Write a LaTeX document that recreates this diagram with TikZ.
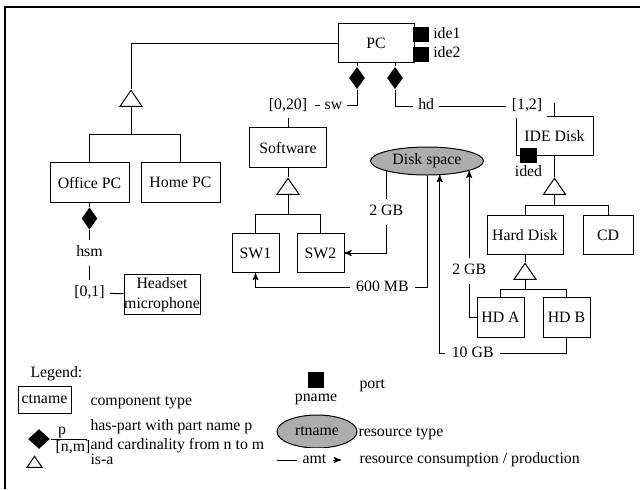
\documentclass[tikz,border=0pt]{standalone}
\usepackage{fontspec}
\setmainfont{Liberation Serif}
\usetikzlibrary{arrows,shapes.geometric,positioning}

\tikzset{
  comp/.style={draw, minimum height=23.6pt, inner sep=1pt},
  port/.style={fill=black, minimum width=9.6pt, minimum height=9pt, inner sep=0pt},
  haspart/.style={diamond, fill=black, minimum width=9.6pt, minimum height=13.5pt, inner sep=0pt},
  isa/.style={draw, isosceles triangle, isosceles triangle stretches, shape border rotate=90,
              minimum width=13.2pt, minimum height=9.6pt, inner sep=0pt},
  restype/.style={draw, ellipse, fill=black!32, minimum width=67.8pt, minimum height=16.8pt, inner sep=0pt},
  part/.style={fill=white, inner xsep=3pt, inner ysep=3pt, text height=6.6pt, text depth=2pt},
  amount/.style={fill=white, inner xsep=4pt, inner ysep=3.5pt, text height=6.6pt, text depth=2pt},
  txt/.style={inner sep=0pt, text height=6.2pt, text depth=1.6pt}
}

\begin{document}
\begin{tikzpicture}[x=0.6pt,y=-0.6pt,line width=0.6pt,>=stealth',
                    font=\fontsize{9.5}{12}\selectfont]
  \useasboundingbox (0,0) rectangle (640,489);
  \draw[line width=1.6pt] (5,489) -- (5,7) -- (640,7);

  % component types
  \node[comp, minimum width=45.6pt] (pc) at (376,43) {PC};
  \node[comp, minimum width=47.4pt] (office) at (89.5,182.5) {Office PC};
  \node[comp, minimum width=47.4pt] (home) at (180.5,182.5) {Home PC};
  \node[comp, minimum width=45.6pt, align=center, inner xsep=0pt] (headset) at (162,294.5) {Headset\\microphone};
  \node[comp, minimum width=46.2pt] (software) at (288,147.5) {Software};
  \node[comp, minimum width=28.2pt] (sw1) at (255.5,253) {SW1};
  \node[comp, minimum width=28.2pt] (sw2) at (320.5,253) {SW2};
  \node[comp, minimum width=46.2pt] (ide) at (554.5,136) {IDE Disk};
  \node[comp, minimum width=45.6pt] (hard) at (525,235) {Hard Disk};
  \node[comp, minimum width=30pt] (cd) at (608,235) {CD};
  \node[comp, minimum width=28.2pt] (hda) at (500.5,317.5) {HD A};
  \node[comp, minimum width=28.2pt] (hdb) at (566.5,317.5) {HD B};
  \node[restype] (space) at (427,161) {Disk space};

  % ports
  \node[port] (ide1) at (421,34.5) {};
  \node[port] (ide2) at (421,54) {};
  \node[txt, right=2pt of ide1] (ide1l) {ide1};
  \node[txt, right=2pt of ide2] (ide2l) {ide2};
  \node[port, minimum width=10.2pt] (ided) at (528.5,155.5) {};
  \node[txt, below=1.5pt of ided] (idedl) {ided};

  % has-part
  \node[haspart] (dsw) at (357,78) {};
  \node[haspart] (dhd) at (395,78) {};
  \node[haspart] (dhsm) at (89.5,218.5) {};
  \draw (dsw) -- (dsw |- pc.south);
  \draw (dhd) -- (dhd |- pc.south);
  \draw (dhsm) -- (office);

  \draw (dsw.south) -- ++(0,16) -| (software.north)
    node[part, pos=0.17] (swname) {sw}
    node[part, inner xsep=5pt, pos=0.5] (swcard) {[0,20]};

  \node[part] (hdcard) at (527,106) {[1,2]};
  \draw (dhd.south) |- (hdcard.west) node[part, pos=0.64] (hdname) {hd};
  \coordinate (hdtop) at (554.5,103);
  \draw (hdtop) -- (ide);

  \node[part] (hsm) at (89.5,253) {hsm};
  \node[part] (hsmcard) at (89.5,293) {[0,1]};
  \draw (dhsm) -- (hsm);
  \draw (hsm) -- (hsmcard);
  \draw (hsmcard) -- (headset);

  % is-a
  \node[isa, anchor=apex] (isapc) at (131,89) {};
  \draw (pc) -| (isapc.apex);
  \draw (isapc.south) -- ++(0,28) coordinate (isapcbar);
  \draw (office) |- (isapcbar) -| (home);

  \node[isa, anchor=apex] (isasw) at (288,177) {};
  \draw (software) -- (isasw.apex);
  \draw (isasw.south) -- ++(0,20) coordinate (isaswbar);
  \draw (sw1) |- (isaswbar) -| (sw2);

  \node[isa, anchor=apex] (isaide) at (554.5,177) {};
  \draw (ide) -- (isaide.apex);
  \draw (isaide.south) -- ++(0,11) coordinate (isaidebar);
  \draw (hard) |- (isaidebar) -| (cd);

  \node[isa, anchor=apex] (isahd) at (525,262) {};
  \draw (hard) -- (isahd.apex);
  \draw (isahd.south) -- ++(0,10) coordinate (isahdbar);
  \draw (hda) |- (isahdbar) -| (hdb);

  % resources
  \draw[->] (space.194.6) |- (sw2) node[amount, pos=0.25] (gbsw) {2 GB};
  \draw[->] (space.south) |- ([yshift=-8.4pt]sw1.south)
    node[amount, pos=0.63] (mbsw) {600 MB} -- (sw1);
  \draw[->] (hdb) -- ([yshift=-9.6pt]hdb.south) -| (space.-48.7)
    node[amount, pos=0.37] (gbhdb) {10 GB};
  \draw[->] (hda) -| (space.-13.9) node[amount, pos=0.66] (gbhda) {2 GB};

  % legend
  \node[txt, anchor=west] (legend) at (30,374) {Legend:};
  \node[comp, minimum width=31.8pt, minimum height=16.2pt] (lcomp) at (44.5,399.5) {ctname};
  \node[txt, anchor=west] (lcompt) at (90,402) {component type};
  \node[haspart, minimum width=13.2pt, minimum height=12pt] (lpart) at (39,439) {};
  \coordinate (lpartend) at (87,439);
  \draw (lpart) -- (lpartend);
  \node[txt] (lp) at (62,431) {p};
  \node[txt] (lnm) at (73,448) {[n,m]};
  \node[txt, anchor=west] (lpartt) at (90,427) {has-part with part name p};
  \node[txt, anchor=west] (lcardt) at (90,446) {and cardinality from n to m};
  \node[isa, minimum width=9pt, minimum height=6.6pt, anchor=apex] (lisa) at (34.5,455) {};
  \node[txt, anchor=west] (lisat) at (90,461) {is-a};
  \node[port, minimum height=9.6pt] (lport) at (316,380) {};
  \node[txt, below=1.5pt of lport] (lportn) {pname};
  \node[txt, anchor=west] (lportt) at (359,385) {port};
  \node[restype, minimum width=48pt, minimum height=19.8pt] (lres) at (317,431.5) {rtname};
  \node[txt, anchor=west] (lrest) at (358,433) {resource type};
  \node[part] (lamt) at (314.5,460) {amt};
  \coordinate (lamtstart) at (277,460);
  \draw (lamtstart) -- (lamt);
  \coordinate (larrow1) at (333,460);
  \coordinate (larrow2) at (341,460);
  \draw[->] (larrow1) -- (larrow2);
  \node[txt, anchor=west] (lamtt) at (359,460) {resource consumption / production};
\end{tikzpicture}
\end{document}
